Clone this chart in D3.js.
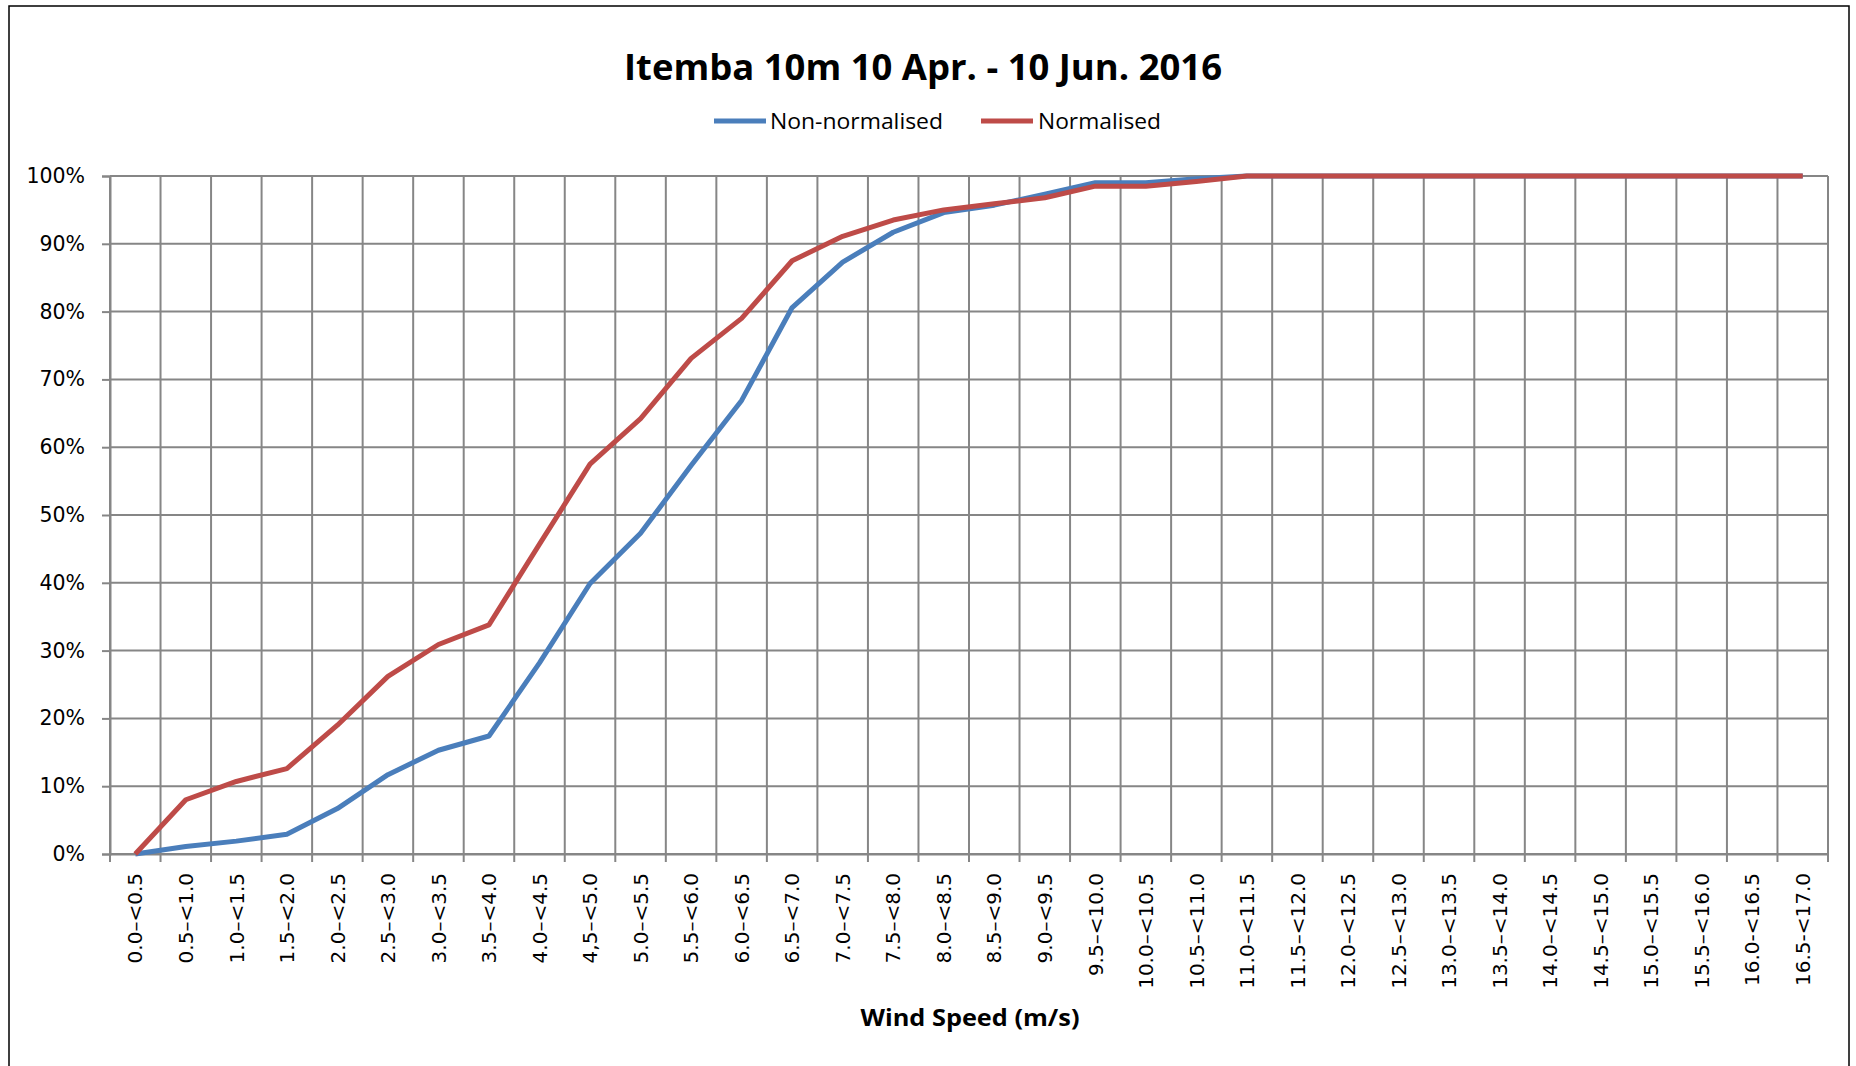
<!DOCTYPE html>
<html>
<head>
<meta charset="utf-8">
<script src="https://cdn.jsdelivr.net/npm/d3@7"></script>
<style>
  html, body { margin: 0; padding: 0; background: #fff; }
  svg { display: block; }
</style>
</head>
<body>
<svg id="chart" width="1856" height="1066"></svg>
<script>
// Wind speed bins (m/s)
const categories = [
  "0.0\u2013<0.5", "0.5\u2013<1.0", "1.0\u2013<1.5", "1.5\u2013<2.0", "2.0\u2013<2.5",
  "2.5\u2013<3.0", "3.0\u2013<3.5", "3.5\u2013<4.0", "4.0\u2013<4.5", "4,5\u2013<5.0",
  "5.0\u2013<5.5", "5.5\u2013<6.0", "6.0\u2013<6.5", "6.5\u2013<7.0", "7.0\u2013<7.5",
  "7.5\u2013<8.0", "8.0\u2013<8.5", "8.5\u2013<9.0", "9.0\u2013<9.5", "9.5\u2013<10.0",
  "10.0\u2013<10.5", "10.5\u2013<11.0", "11.0\u2013<11.5", "11.5\u2013<12.0", "12.0\u2013<12.5",
  "12.5\u2013<13.0", "13.0\u2013<13.5", "13.5\u2013<14.0", "14.0\u2013<14.5", "14.5\u2013<15.0",
  "15.0\u2013<15.5", "15.5\u2013<16.0", "16.0-<16.5", "16.5-<17.0"
];

// Cumulative frequency (%) per bin
const nonNormalised = [
  0, 1.1, 1.9, 2.9, 6.7, 11.7, 15.3, 17.4, 28.2, 39.9,
  47.3, 57.3, 66.9, 80.6, 87.3, 91.7, 94.6, 95.7, 97.3, 99.0,
  99.0, 99.6, 100, 100, 100, 100, 100, 100, 100, 100,
  100, 100, 100, 100
];
const normalised = [
  0, 8.0, 10.7, 12.6, 19.0, 26.2, 30.9, 33.8, 45.7, 57.5,
  64.2, 73.1, 79.0, 87.5, 91.1, 93.5, 95.0, 95.9, 96.8, 98.5,
  98.5, 99.2, 100, 100, 100, 100, 100, 100, 100, 100,
  100, 100, 100, 100
];

const yTicks = [0, 10, 20, 30, 40, 50, 60, 70, 80, 90, 100];

const seriesNames = ["Non-normalised", "Normalised"];
const seriesColors = ["#4A7EBB", "#BE4B48"];

const titleText = "Itemba 10m 10 Apr. - 10 Jun. 2016";
const xTitleText = "Wind Speed (m/s)";

// ---- layout ----
const svg = d3.select("#chart");
const plot = { left: 110, right: 1828, top: 176, bottom: 854 };
const gridColor = "#868686";

// chart frame
svg.append("rect")
  .attr("x", 9).attr("y", 6)
  .attr("width", 1840).attr("height", 1100)
  .attr("fill", "none").attr("stroke", "#000").attr("stroke-width", 1.5);

const x = d3.scaleBand().domain(categories).range([plot.left, plot.right]).padding(0);
const y = d3.scaleLinear().domain([0, 100]).range([plot.bottom, plot.top]);

// horizontal gridlines + left ticks
const yAxis = d3.axisLeft(y).tickValues(yTicks).tickSize(8).tickFormat(d => d + "%");
const yG = svg.append("g").attr("transform", `translate(${plot.left},0)`).call(yAxis);
yG.select(".domain").attr("stroke", gridColor).attr("stroke-width", 2);
yG.selectAll(".tick line").attr("stroke", gridColor).attr("stroke-width", 2);
yG.selectAll(".tick text")
  .attr("x", -25)
  .attr("font-family", "DejaVu Sans, Verdana, sans-serif")
  .attr("font-size", 20.5)
  .attr("fill", "#000");

svg.append("g").selectAll("line").data(yTicks).join("line")
  .attr("x1", plot.left).attr("x2", plot.right)
  .attr("y1", d => y(d)).attr("y2", d => y(d))
  .attr("stroke", gridColor).attr("stroke-width", 2);

// vertical gridlines at bin boundaries
const boundaries = categories.map(c => x(c)).concat([plot.right]);
svg.append("g").selectAll("line").data(boundaries).join("line")
  .attr("x1", d => d).attr("x2", d => d)
  .attr("y1", plot.top).attr("y2", plot.bottom + 8)
  .attr("stroke", gridColor).attr("stroke-width", 2);

// x axis labels (rotated)
const xAxis = d3.axisBottom(x).tickSize(0).tickPadding(0);
const xG = svg.append("g").attr("transform", `translate(0,${plot.bottom})`).call(xAxis);
xG.select(".domain").attr("stroke", gridColor).attr("stroke-width", 2);
xG.selectAll(".tick line").remove();
xG.selectAll(".tick text")
  .attr("transform", "translate(0,19) rotate(-90)")
  .attr("x", 0).attr("y", 0).attr("dy", "0.36em")
  .attr("text-anchor", "end")
  .attr("font-family", "DejaVu Sans, Verdana, sans-serif")
  .attr("font-size", 20)
  .attr("fill", "#000");

// lines
const line = d3.line()
  .x((d, i) => x(categories[i]) + x.bandwidth() / 2)
  .y(d => y(d));

[nonNormalised, normalised].forEach((vals, k) => {
  svg.append("path")
    .datum(vals)
    .attr("d", line)
    .attr("fill", "none")
    .attr("stroke", seriesColors[k])
    .attr("stroke-width", 5)
    .attr("stroke-linejoin", "round")
    .attr("stroke-linecap", "butt");
});

// title
svg.append("text")
  .attr("x", 923).attr("y", 80)
  .attr("text-anchor", "middle")
  .attr("font-family", "Open Sans, sans-serif")
  .attr("font-weight", 700)
  .attr("font-size", 36)
  .attr("textLength", 598).attr("lengthAdjust", "spacingAndGlyphs")
  .text(titleText);

// legend
const legendItems = [
  { x1: 714, x2: 766, tx: 770, tw: 173 },
  { x1: 981, x2: 1033, tx: 1038, tw: 123 }
];
legendItems.forEach((it, k) => {
  svg.append("line")
    .attr("x1", it.x1).attr("x2", it.x2)
    .attr("y1", 121).attr("y2", 121)
    .attr("stroke", seriesColors[k]).attr("stroke-width", 5);
  svg.append("text")
    .attr("x", it.tx).attr("y", 129)
    .attr("font-family", "Open Sans, sans-serif")
    .attr("font-size", 22)
    .attr("textLength", it.tw).attr("lengthAdjust", "spacingAndGlyphs")
    .text(seriesNames[k]);
});

// x axis title
svg.append("text")
  .attr("x", 970).attr("y", 1026)
  .attr("text-anchor", "middle")
  .attr("font-family", "Open Sans, sans-serif")
  .attr("font-weight", 700)
  .attr("font-size", 23)
  .attr("textLength", 219).attr("lengthAdjust", "spacingAndGlyphs")
  .text(xTitleText);
</script>
</body>
</html>
